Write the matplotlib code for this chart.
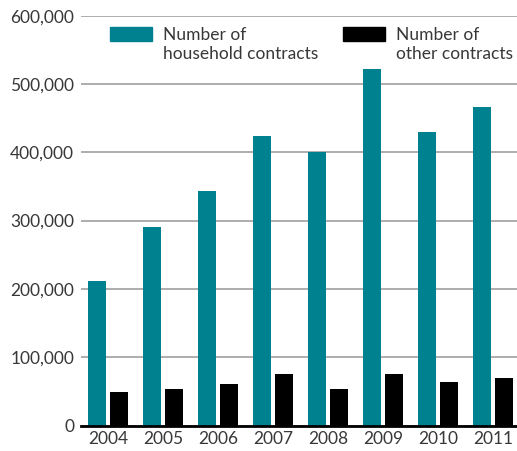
import matplotlib.pyplot as plt
import numpy as np
from matplotlib.patches import Rectangle

# data
years = ["2004", "2005", "2006", "2007", "2008", "2009", "2010", "2011"]
household = [211000, 290000, 343000, 424000, 400000, 522000, 429000, 467000]
other = [49000, 53000, 61000, 75000, 53000, 75000, 64000, 70000]
series_names = ["Number of\nhousehold contracts", "Number of\nother contracts"]

teal = "#00818f"
txt = "#383838"

plt.rcParams["font.family"] = ["Lato", "DejaVu Sans"]

fig = plt.figure(figsize=(5.17, 4.51), dpi=100)
ax = fig.add_axes([0.1567, 0.0565, 0.8433, 0.9087])

x = np.arange(len(years))
w = 0.33
ax.bar(x - 0.2, household, width=w, color=teal, zorder=3)
ax.bar(x + 0.2, other, width=w, color="black", zorder=3)

ax.set_xlim(-0.49, 7.44)
ax.set_ylim(0, 600000)
ax.set_yticks(np.arange(0, 600001, 100000))
ax.set_yticklabels(["0" if v == 0 else f"{v:,}" for v in range(0, 600001, 100000)])
ax.set_xticks(x)
ax.set_xticklabels(years)

ax.yaxis.grid(True, color="#a0a0a0", linewidth=1.2, zorder=0)
ax.tick_params(axis="both", length=0, labelsize=12.5, labelcolor=txt)
ax.tick_params(axis="y", pad=5)
ax.tick_params(axis="x", pad=4)

for s in ["top", "right", "left"]:
    ax.spines[s].set_visible(False)
ax.spines["bottom"].set_color("black")
ax.spines["bottom"].set_linewidth(2)
ax.spines["bottom"].set_zorder(4)

# hand-placed legend: swatch lines up with the first text line
for xs, col, name in [(0.0665, teal, series_names[0]), (0.601, "black", series_names[1])]:
    ax.add_patch(Rectangle((xs, 0.9383), 0.0963, 0.0341, transform=ax.transAxes,
                           color=col, clip_on=False, zorder=5))
    ax.text(xs + 0.1216, 0.972, name, transform=ax.transAxes, va="top", ha="left",
            fontsize=12.5, color=txt, linespacing=1.25)

fig.savefig("out.png", dpi=100)
